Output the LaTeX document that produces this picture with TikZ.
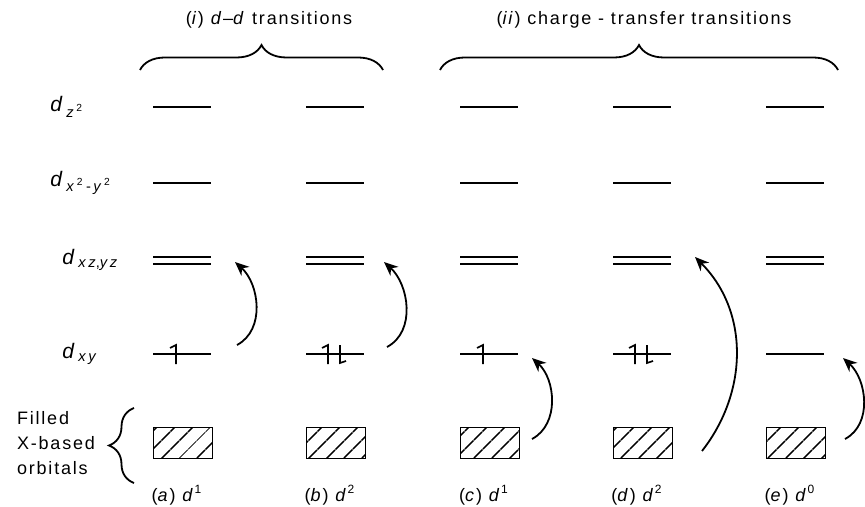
\documentclass[tikz,border=0pt]{standalone}
\usepackage{fontspec}
\setmainfont{Liberation Sans}[LetterSpace=10]
\usetikzlibrary{arrows.meta,patterns.meta,decorations.pathreplacing,positioning}

\begin{document}
\begin{tikzpicture}[x=0.5pt, y=0.5pt,
    every node/.style={font=\fontsize{9}{11}\selectfont, inner sep=1pt},
    orb/.style={anchor=west, font=\fontsize{10.5}{12}\selectfont\addfontfeature{LetterSpace=18}},
    level/.style={line width=0.9pt},
    orbbox/.style={draw, line width=0.9pt, minimum width=29.5pt,
                   minimum height=15.5pt, inner sep=0pt,
                   pattern={Lines[angle=45, distance=6.5pt, line width=0.9pt]}},
    elec/.style={line width=0.8pt},
    trans/.style={-{Stealth[length=7pt, width=6pt]}, line width=0.9pt},
    grp/.style={decorate, line width=0.9pt, decoration={brace, amplitude=12.5pt}},
]
    \useasboundingbox (0,0) rectangle (865,-507);

    \node[orb] (lz)   at (48,-107)  {\textit{d}\textsubscript{\textit{z}\textsuperscript{2}}};
    \node[orb] (lx2)  at (48,-183)  {\textit{d}\textsubscript{\textit{x}\textsuperscript{2}\,-\,\textit{y}\textsuperscript{2}}};
    \node[orb] (lxz)  at (60,-260)  {\textit{d}\textsubscript{\textit{xz},\textit{yz}}};
    \node[orb] (lxy)  at (60,-354)  {\textit{d}\textsubscript{\textit{xy}}};
    \node[align=left]  (fill) at (56,-443)  {Filled\\[1.5pt]X-based\\[1.5pt]orbitals};

    \draw[grp] (134,-483) -- (134,-408);

    \foreach \c/\x/\n in {a/182/1, b/335/2, c/489/1, d/642/2, e/795/0} {
        \draw[level] (\x-29,-107) -- ++(58,0);
        \draw[level] (\x-29,-183) -- ++(58,0);
        \draw[level] (\x-29,-257) -- ++(58,0);
        \draw[level] (\x-29,-264) -- ++(58,0);
        \draw[level] (\x-29,-354) -- ++(58,0);
        \node[orbbox] (box\c) at (\x+1,-443) {};
        \node (lab\c) at (\x-5,-495) {(\textit{\c}) \textit{d}\textsuperscript{\n}};
    }

    \draw[elec] (176,-364) -- (176,-345) -- (170,-348);
    \draw[elec] (328,-364) -- (328,-345) -- (322,-348);
    \draw[elec] (340,-345) -- (340,-363) -- (346,-361);
    \draw[elec] (483,-364) -- (483,-345) -- (477,-348);
    \draw[elec] (635,-364) -- (635,-345) -- (629,-348);
    \draw[elec] (647,-345) -- (647,-363) -- (653,-361);

    \draw[grp] (140,-70) -- (383,-70);
    \draw[grp] (440,-70) -- (838,-70);
    \node (ti)  at (269,-20) {(\textit{i}) \textit{d}--\textit{d} transitions};
    \node (tii) at (644,-20) {(\textit{ii}) charge - transfer transitions};

    \coordinate (a0) at (237,-345);  \coordinate (a1) at (235,-262);
    \coordinate (b0) at (387,-347);  \coordinate (b1) at (384,-262);
    \coordinate (c0) at (532,-439);  \coordinate (c1) at (532,-358);
    \coordinate (d0) at (702,-451);  \coordinate (d1) at (695,-257);
    \coordinate (e0) at (845,-439);  \coordinate (e1) at (843,-358);

    \draw[trans] (a0) to[out=28, in=-42] (a1);
    \draw[trans] (b0) to[out=28, in=-42] (b1);
    \draw[trans] (c0) to[out=28, in=-42] (c1);
    \draw[trans] (d0) to[out=52, in=-45] (d1);
    \draw[trans] (e0) to[out=28, in=-42] (e1);
\end{tikzpicture}
\end{document}
